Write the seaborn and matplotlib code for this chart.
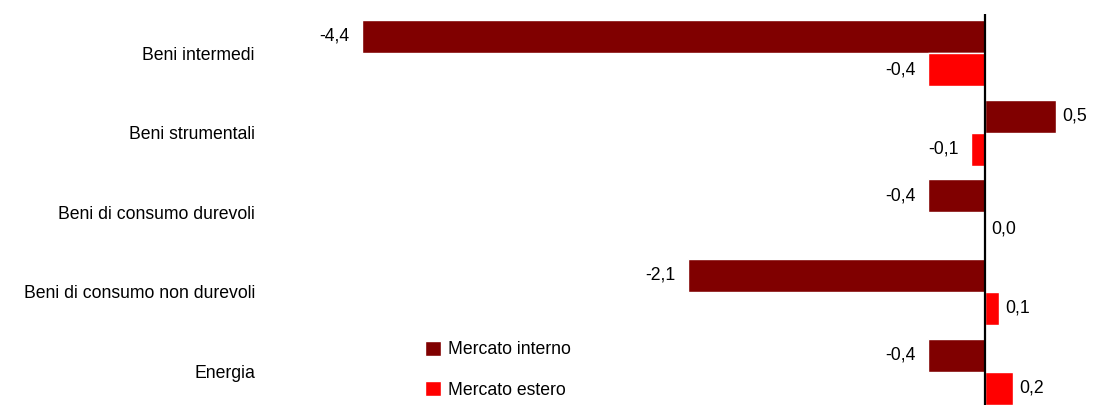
import pandas as pd
import seaborn as sns
import matplotlib
matplotlib.use("Agg")
import matplotlib.pyplot as plt

# data
categories = ["Beni intermedi", "Beni strumentali", "Beni di consumo durevoli",
              "Beni di consumo non durevoli", "Energia"]
interno = [-4.4, 0.5, -0.4, -2.1, -0.4]
estero = [-0.4, -0.1, 0.0, 0.1, 0.2]
series = ["Mercato interno", "Mercato estero"]
colors = ["#800000", "#FF0000"]

df = pd.DataFrame({
    "categoria": categories * 2,
    "valore": interno + estero,
    "mercato": [series[0]] * len(categories) + [series[1]] * len(categories),
})

sns.set_style("white")
plt.rcParams["font.family"] = ["Liberation Sans", "DejaVu Sans"]
plt.rcParams["text.color"] = "black"
fs = 12.7

fig = plt.figure(figsize=(11, 4.05), dpi=100)
ax = fig.add_axes([330 / 1100, 0, 770 / 1100, 391 / 405])

sns.barplot(data=df, x="valore", y="categoria", hue="mercato", orient="h",
            palette=colors, width=0.83, saturation=1, ax=ax)

ax.set_xlim(-4.626, 0.812)
ax.set_ylim(4.42, -0.49)
ax.axvline(0, color="black", lw=1.6)
for s in ax.spines.values():
    s.set_visible(False)
ax.set_xticks([])
ax.set_xlabel("")
ax.set_ylabel("")
ax.tick_params(axis="y", length=0, pad=54, labelsize=fs, labelcolor="black")

# value labels
off = 0.83 / 4
for i, cat in enumerate(categories):
    for j, vals in enumerate([interno, estero]):
        v = vals[i]
        y = i - off if j == 0 else i + off
        txt = f"{v:.1f}".replace(".", ",")
        if v < 0:
            ax.annotate(txt, (v, y), xytext=(-9, 0), textcoords="offset points",
                        ha="right", va="center", fontsize=fs)
        else:
            ax.annotate(txt, (v, y), xytext=(4.5, 0), textcoords="offset points",
                        ha="left", va="center", fontsize=fs)

ax.legend(loc="center left", bbox_to_anchor=(0.124, 0.09), frameon=False,
          handlelength=0.9, handleheight=0.9, labelspacing=1.3,
          borderaxespad=0, borderpad=0, handletextpad=0.35, fontsize=fs)

fig.savefig("out.png", dpi=100)
